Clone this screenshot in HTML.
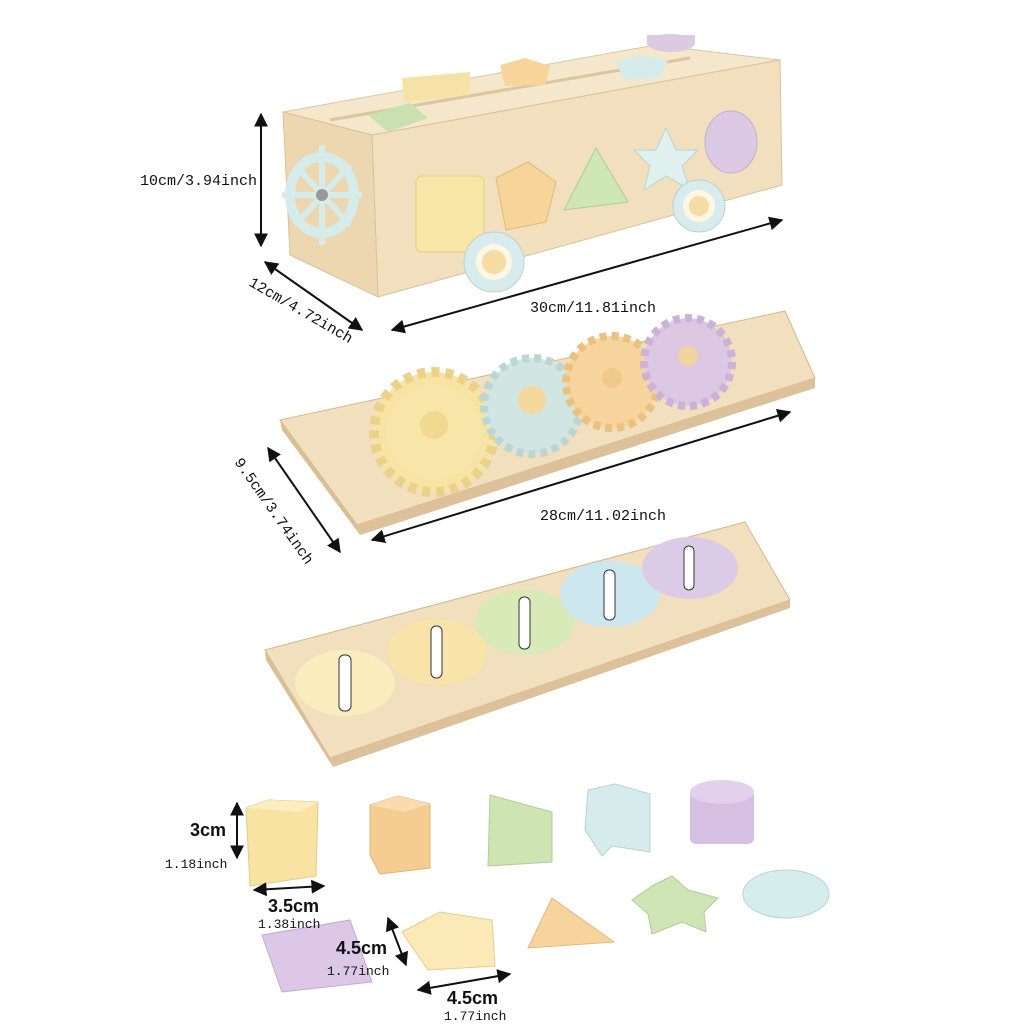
<!DOCTYPE html>
<html><head><meta charset="utf-8"><style>
html,body{margin:0;padding:0;background:#fff;}
svg{display:block;}
text{font-family:"Liberation Mono",monospace;fill:#111;}
.b{font-family:"Liberation Sans",sans-serif;font-weight:bold;}
</style></head><body>
<svg width="1024" height="1024" viewBox="0 0 1024 1024" xmlns="http://www.w3.org/2000/svg">
<defs>
<marker id="a" viewBox="0 0 10 10" refX="9" refY="5" markerWidth="7" markerHeight="7" orient="auto-start-reverse"><path d="M0,0L10,5L0,10z" fill="#111"/></marker>
</defs>
<rect width="1024" height="1024" fill="#fff"/>

<!-- TOP BOX -->
<polygon points="283,112 655,45 780,60 372,135" fill="#f5e7cc" stroke="#dcc7a2"/>
<polygon points="372,135 780,60 782,185 378,297" fill="#f1dfbe" stroke="#d9c29a"/>
<polygon points="283,112 372,135 378,297 290,255" fill="#ecd7b0" stroke="#d9c29a"/>
<line x1="330" y1="120" x2="690" y2="58" stroke="#dcc59f" stroke-width="3"/>
<!-- top shapes -->
<polygon points="368,115 410,103 428,118 388,132" fill="#c9e0b0"/>
<polygon points="402,78 470,72 470,95 404,102" fill="#f6e2a6"/>
<polygon points="500,65 525,58 550,66 545,85 505,86" fill="#f6d49a"/>
<polygon points="615,62 640,55 668,60 660,78 625,80" fill="#d6ecea"/>
<ellipse cx="671" cy="43" rx="24" ry="9" fill="#dccae3"/>
<rect x="647" y="35" width="48" height="9" fill="#dccae3"/>
<!-- front shapes -->
<rect x="416" y="176" width="68" height="76" rx="6" fill="#f8e6a6" stroke="#e4cc85"/>
<polygon points="496,178 528,162 556,182 546,222 506,230" fill="#f7d59a" stroke="#e2b977"/>
<polygon points="564,210 596,148 628,202" fill="#cfe6b5" stroke="#afcd93"/>
<polygon points="666,128 676,150 698,150 682,166 690,190 666,176 644,190 650,166 634,150 656,150" fill="#dff0ee" stroke="#b9d4d1"/>
<ellipse cx="731" cy="142" rx="26" ry="31" fill="#dcc9e4" stroke="#c4aed0"/>
<!-- wheels -->
<circle cx="494" cy="262" r="30" fill="#d8ecee" stroke="#b8d2d4"/>
<circle cx="494" cy="262" r="18" fill="#fff6e4"/>
<circle cx="494" cy="262" r="12" fill="#f6dca3"/>
<circle cx="699" cy="206" r="26" fill="#d8ecee" stroke="#b8d2d4"/>
<circle cx="699" cy="206" r="16" fill="#fff6e4"/>
<circle cx="699" cy="206" r="10" fill="#f6dca3"/>
<!-- ship wheel -->
<ellipse cx="322" cy="195" rx="32" ry="38" fill="none" stroke="#d6ecea" stroke-width="10"/>
<g stroke="#d6ecea" stroke-width="6"><line x1="322" y1="145" x2="322" y2="245"/><line x1="282" y1="195" x2="362" y2="195"/><line x1="295" y1="165" x2="350" y2="225"/><line x1="295" y1="225" x2="350" y2="165"/></g>
<circle cx="322" cy="195" r="6" fill="#999"/>

<!-- dims top -->
<line x1="261" y1="114" x2="261" y2="246" stroke="#111" stroke-width="2" marker-start="url(#a)" marker-end="url(#a)"/>
<text x="140" y="185" font-size="15">10cm/3.94inch</text>
<line x1="265" y1="262" x2="362" y2="330" stroke="#111" stroke-width="2" marker-start="url(#a)" marker-end="url(#a)"/>
<text x="0" y="0" font-size="15" transform="translate(248,285) rotate(30)">12cm/4.72inch</text>
<line x1="392" y1="330" x2="782" y2="220" stroke="#111" stroke-width="2" marker-start="url(#a)" marker-end="url(#a)"/>
<text x="530" y="312" font-size="15">30cm/11.81inch</text>

<!-- MIDDLE BOARD -->
<polygon points="280,420 785,311 815,378 357,525" fill="#f1dfbe" stroke="#d3b98e"/>
<polygon points="357,525 815,378 815,388 360,535" fill="#dcc19a"/>
<polygon points="280,420 357,525 360,535 282,430" fill="#d9bf97"/>
<g>
<circle cx="434" cy="432" r="60" fill="#f7e4a4" stroke="#ecd289" stroke-width="10" stroke-dasharray="8 6"/>
<circle cx="434" cy="432" r="48" fill="#f8e6a8"/>
<circle cx="434" cy="425" r="14" fill="#f1d990"/>
<circle cx="532" cy="406" r="48" fill="#d1e6e3" stroke="#bcd7d3" stroke-width="8" stroke-dasharray="7 5"/>
<circle cx="532" cy="400" r="14" fill="#f4d79b"/>
<circle cx="612" cy="382" r="46" fill="#f6d49b" stroke="#ebc182" stroke-width="8" stroke-dasharray="7 5"/>
<circle cx="612" cy="378" r="10" fill="#f0c98e"/>
<circle cx="688" cy="362" r="44" fill="#ddc8e4" stroke="#cbb2d6" stroke-width="8" stroke-dasharray="7 5"/>
<circle cx="688" cy="356" r="10" fill="#f2d3a0"/>
</g>
<line x1="268" y1="448" x2="340" y2="552" stroke="#111" stroke-width="2" marker-start="url(#a)" marker-end="url(#a)"/>
<text x="0" y="0" font-size="15" transform="translate(234,462) rotate(55)">9.5cm/3.74inch</text>
<line x1="372" y1="540" x2="790" y2="412" stroke="#111" stroke-width="2" marker-start="url(#a)" marker-end="url(#a)"/>
<text x="540" y="520" font-size="15">28cm/11.02inch</text>

<!-- BOTTOM BOARD -->
<polygon points="265,650 745,522 790,600 330,758" fill="#f1dfbe" stroke="#d3b98e"/>
<polygon points="330,758 790,600 790,608 333,767" fill="#dcc19a"/>
<polygon points="265,650 330,758 333,767 266,660" fill="#d9bf97"/>
<ellipse cx="345" cy="683" rx="50" ry="33" fill="#fbecbe"/>
<ellipse cx="437" cy="652" rx="50" ry="33" fill="#f8e3a8"/>
<ellipse cx="525" cy="622" rx="50" ry="33" fill="#d9eab9"/>
<ellipse cx="610" cy="594" rx="50" ry="33" fill="#cde7ef"/>
<ellipse cx="690" cy="568" rx="48" ry="31" fill="#dccbe6"/>
<g fill="#fff" stroke="#333" stroke-width="1"><rect x="339" y="655" width="12" height="56" rx="5"/><rect x="431" y="626" width="11" height="52" rx="5"/><rect x="519" y="597" width="11" height="52" rx="5"/><rect x="604" y="570" width="11" height="50" rx="5"/><rect x="684" y="546" width="10" height="44" rx="5"/></g>

<!-- PIECES -->
<polygon points="246,808 268,800 318,802 316,876 250,886" fill="#f8e3a2" stroke="#e4c987"/>
<polygon points="246,808 268,800 318,802 300,812" fill="#fbeec0"/>
<polygon points="370,805 398,796 430,804 430,868 380,874 370,855" fill="#f5cc92" stroke="#dfb47a"/>
<polygon points="370,805 398,796 430,804 404,812" fill="#f8dcae"/>
<polygon points="490,795 552,812 552,862 488,866" fill="#cfe4b3" stroke="#b3cd95"/>
<polygon points="588,790 615,784 650,794 650,852 612,846 602,856 585,830" fill="#d6ebec" stroke="#b7d2d3"/>
<rect x="690" y="790" width="64" height="54" rx="6" fill="#d5bfe2"/>
<ellipse cx="722" cy="792" rx="32" ry="12" fill="#e3d0ea"/>
<polygon points="262,935 350,920 372,982 282,992" fill="#dcc7e7" stroke="#c2abd3"/>
<polygon points="402,932 440,912 492,920 495,966 428,970" fill="#fbe9b8" stroke="#e4cc8d"/>
<polygon points="528,948 552,898 614,942" fill="#f7d49e" stroke="#e1b87f"/>
<polygon points="652,886 672,876 688,890 718,898 704,912 706,932 682,922 652,934 648,914 632,900" fill="#cfe5b6" stroke="#b2cb96"/>
<ellipse cx="786" cy="894" rx="43" ry="24" fill="#d6eded" stroke="#b8d3d3"/>

<!-- piece dims -->
<line x1="237" y1="803" x2="237" y2="858" stroke="#111" stroke-width="2" marker-start="url(#a)" marker-end="url(#a)"/>
<text class="b" x="190" y="836" font-size="18">3cm</text>
<text x="165" y="868" font-size="13">1.18inch</text>
<line x1="254" y1="890" x2="324" y2="886" stroke="#111" stroke-width="2" marker-start="url(#a)" marker-end="url(#a)"/>
<text class="b" x="268" y="912" font-size="18">3.5cm</text>
<text x="258" y="928" font-size="13">1.38inch</text>
<line x1="388" y1="918" x2="406" y2="965" stroke="#111" stroke-width="2" marker-start="url(#a)" marker-end="url(#a)"/>
<text class="b" x="336" y="954" font-size="18">4.5cm</text>
<text x="327" y="975" font-size="13">1.77inch</text>
<line x1="418" y1="990" x2="510" y2="974" stroke="#111" stroke-width="2" marker-start="url(#a)" marker-end="url(#a)"/>
<text class="b" x="447" y="1004" font-size="18">4.5cm</text>
<text x="444" y="1020" font-size="13">1.77inch</text>
</svg>
</body></html>
